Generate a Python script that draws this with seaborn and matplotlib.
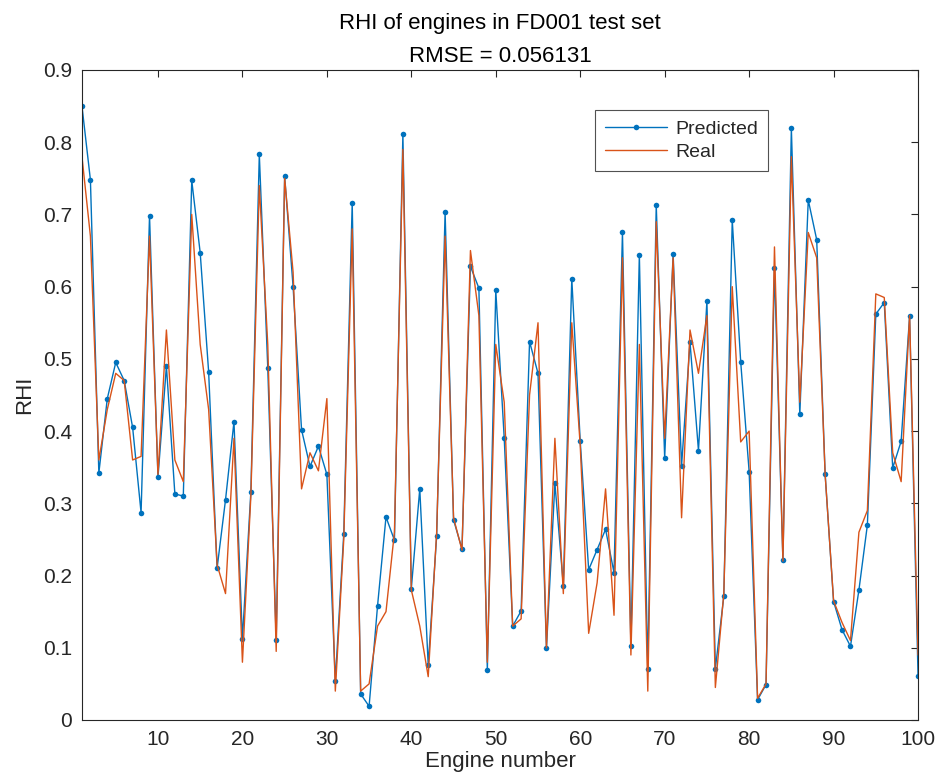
import numpy as np
import pandas as pd
import matplotlib
matplotlib.use("Agg")
import matplotlib.pyplot as plt
import seaborn as sns

engines = list(range(1, 101))

predicted = [
    0.850, 0.748, 0.342, 0.445, 0.495, 0.470, 0.405, 0.287, 0.698, 0.336,
    0.490, 0.313, 0.310, 0.747, 0.647, 0.482, 0.210, 0.305, 0.413, 0.112,
    0.316, 0.783, 0.488, 0.111, 0.753, 0.600, 0.402, 0.351, 0.379, 0.340,
    0.054, 0.258, 0.716, 0.036, 0.019, 0.158, 0.281, 0.249, 0.811, 0.182,
    0.320, 0.076, 0.255, 0.703, 0.277, 0.237, 0.628, 0.598, 0.069, 0.595,
    0.390, 0.130, 0.151, 0.524, 0.480, 0.099, 0.328, 0.186, 0.611, 0.386,
    0.208, 0.236, 0.264, 0.204, 0.675, 0.103, 0.644, 0.070, 0.713, 0.363,
    0.645, 0.352, 0.523, 0.373, 0.580, 0.071, 0.171, 0.692, 0.496, 0.344,
    0.028, 0.049, 0.626, 0.221, 0.819, 0.423, 0.720, 0.665, 0.340, 0.164,
    0.125, 0.102, 0.180, 0.270, 0.562, 0.578, 0.349, 0.386, 0.559, 0.061,
]

real = [
    0.780, 0.670, 0.360, 0.430, 0.480, 0.470, 0.360, 0.365, 0.670, 0.340,
    0.540, 0.360, 0.330, 0.700, 0.520, 0.430, 0.215, 0.175, 0.390, 0.080,
    0.310, 0.740, 0.520, 0.095, 0.750, 0.620, 0.320, 0.370, 0.345, 0.445,
    0.040, 0.250, 0.680, 0.040, 0.050, 0.130, 0.150, 0.260, 0.790, 0.180,
    0.130, 0.060, 0.260, 0.670, 0.280, 0.235, 0.650, 0.560, 0.080, 0.520,
    0.440, 0.130, 0.140, 0.450, 0.550, 0.100, 0.390, 0.175, 0.550, 0.380,
    0.120, 0.190, 0.320, 0.145, 0.640, 0.090, 0.520, 0.040, 0.690, 0.390,
    0.640, 0.280, 0.540, 0.480, 0.560, 0.045, 0.175, 0.600, 0.385, 0.400,
    0.030, 0.050, 0.655, 0.220, 0.780, 0.440, 0.675, 0.640, 0.340, 0.165,
    0.135, 0.110, 0.260, 0.290, 0.590, 0.585, 0.370, 0.330, 0.560, 0.090,
]

rmse_text = "RMSE = 0.056131"

df = pd.DataFrame({"engine": engines, "Predicted": predicted, "Real": real})

sns.set_style("white")
plt.rcParams['font.family'] = ['Liberation Sans', 'DejaVu Sans']

fig = plt.figure(figsize=(9.41, 7.82), dpi=100)
ax = fig.add_axes([0.0871, 0.0793, 0.8885, 0.8312])

sns.lineplot(data=df, x="engine", y="Predicted", ax=ax, color="#0072BD",
             marker="o", markersize=4, markeredgewidth=0, linewidth=1.0,
             label="Predicted")
sns.lineplot(data=df, x="engine", y="Real", ax=ax, color="#D95319",
             linewidth=1.0, label="Real")

ax.set_xlim(1, 100)
ax.set_ylim(0, 0.9)
ax.set_xticks(range(10, 101, 10))
ax.set_yticks(np.arange(0, 0.91, 0.1))
ax.set_yticklabels(["0"] + [f"{v:.1f}" for v in np.arange(0.1, 0.91, 0.1)])

for s in ax.spines.values():
    s.set_visible(True)
    s.set_color("#262626")
    s.set_linewidth(0.8)
ax.tick_params(direction="in", top=True, right=True, length=5, width=0.8,
               labelsize=15, colors="#262626", pad=7)
for lbl in ax.get_xticklabels() + ax.get_yticklabels():
    lbl.set_color("#262626")

ax.set_xlabel("Engine number", fontsize=16, color="#262626", labelpad=2)
ax.set_ylabel("RHI", fontsize=16, color="#262626", labelpad=6)
ax.set_title("RHI of engines in FD001 test set\n" + rmse_text,
             fontsize=16, color="#000000", linespacing=1.75, pad=6)

leg = ax.legend(loc="upper left", bbox_to_anchor=(0.614, 0.938),
                fontsize=14, frameon=True, fancybox=False, edgecolor="#262626",
                borderpad=0.5, handlelength=3.2, labelspacing=0.3,
                handletextpad=0.4, borderaxespad=0)
leg.get_frame().set_linewidth(0.8)

fig.savefig("out.png", dpi=100)
